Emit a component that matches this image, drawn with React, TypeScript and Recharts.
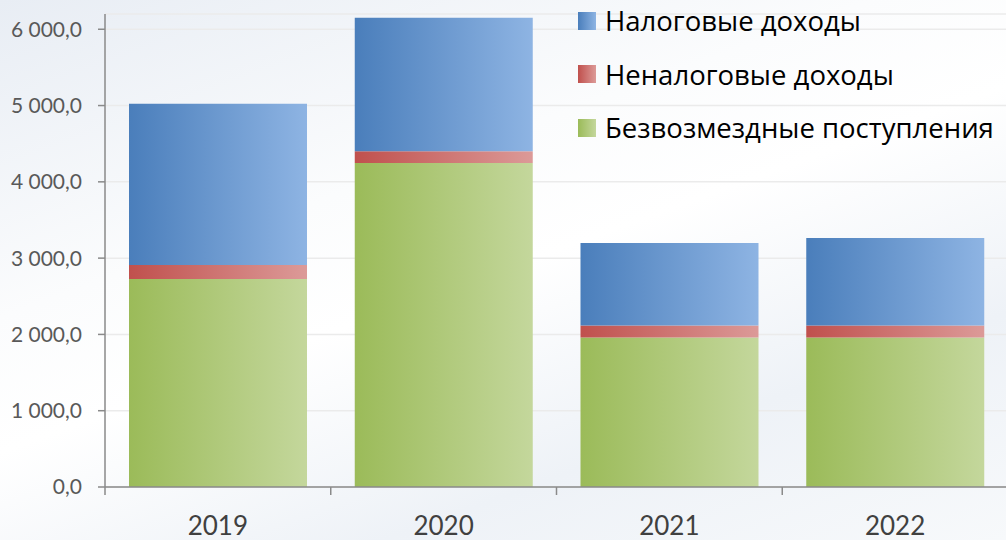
import React from 'react'
import { Bar, BarChart, CartesianGrid, XAxis, YAxis } from 'recharts'

const years = ['2019', '2020', '2021', '2022']
const taxIncome = [2113, 1750, 1081, 1146]
const nonTaxIncome = [183, 153, 158, 159]
const grants = [2726, 4248, 1959, 1959]
const yTicks = [0, 1000, 2000, 3000, 4000, 5000, 6000]

const seriesInfo = [
  { key: 'tax', name: 'Налоговые доходы', from: '#4a7ebb', to: '#8eb4e3' },
  { key: 'nonTax', name: 'Неналоговые доходы', from: '#c0504d', to: '#dc9a98' },
  { key: 'grants', name: 'Безвозмездные поступления', from: '#9bbb59', to: '#c4d79c' }
]

const data = years.map((year, i) => ({
  year,
  tax: taxIncome[i],
  nonTax: nonTaxIncome[i],
  grants: grants[i]
}))

const CHART_W = 1008
const CHART_H = 540
const Y_AXIS_W = 105
const BAND = (CHART_W - Y_AXIS_W) / years.length
const AXIS_GRAY = '#8a8a8a'

const formatTick = (v: number) => (v === 0 ? '0,0' : `${v / 1000} 000,0`)

const YearTick = (props: any) => {
  const { x, y, payload } = props
  return (
    <g>
      <line
        x1={x - BAND / 2}
        x2={x - BAND / 2}
        y1={y}
        y2={y + 8}
        stroke={AXIS_GRAY}
        strokeWidth={1.5}
      />
      <text
        x={x}
        y={y + 48}
        textAnchor='middle'
        fill='#404040'
        fontSize={26}
        fontFamily='Lato, sans-serif'>
        {payload.value}
      </text>
    </g>
  )
}

// legend is drawn as an overlay so it doesn't steal room from the plot
const LegendBox = () => (
  <div
    style={{
      position: 'absolute',
      left: 578,
      top: -6,
      fontFamily: '"Open Sans", sans-serif',
      fontSize: 27.5,
      color: '#000',
      whiteSpace: 'nowrap'
    }}>
    {seriesInfo.map((s) => (
      <div
        key={s.key}
        style={{ display: 'flex', alignItems: 'center', height: 53.5 }}>
        <div
          style={{
            width: 18,
            height: 18,
            marginRight: 9,
            background: `linear-gradient(to right, ${s.from}, ${s.to})`
          }}
        />
        <span>{s.name}</span>
      </div>
    ))}
  </div>
)

const App = () => {
  return (
    <div
      style={{
        position: 'absolute',
        left: 0,
        top: 0,
        width: 1006,
        height: 540,
        overflow: 'hidden',
        background:
          'linear-gradient(160deg, #e8edf4 0%, #fbfcfd 35%, #ffffff 50%, #eef2f7 75%, #f7f9fb 100%)'
      }}>
      <BarChart
        width={CHART_W}
        height={CHART_H}
        data={data}
        margin={{ top: 14, right: 0, bottom: 0, left: 0 }}>
        <defs>
          {seriesInfo.map((s) => (
            <linearGradient key={s.key} id={`grad-${s.key}`} x1='0' y1='0' x2='1' y2='0'>
              <stop offset='0%' stopColor={s.from} />
              <stop offset='100%' stopColor={s.to} />
            </linearGradient>
          ))}
        </defs>
        <CartesianGrid vertical={false} stroke='#ebebeb' strokeWidth={1.5} />
        <XAxis
          dataKey='year'
          height={53}
          stroke={AXIS_GRAY}
          strokeWidth={1.5}
          tickLine={false}
          tickSize={0}
          tickMargin={0}
          tick={<YearTick />}
          interval={0}
        />
        <YAxis
          width={Y_AXIS_W}
          domain={[0, 6200]}
          ticks={yTicks}
          tickFormatter={formatTick}
          stroke={AXIS_GRAY}
          strokeWidth={1.5}
          tickSize={7}
          tickMargin={16}
          tick={{ fill: '#595959', fontSize: 21, fontFamily: 'Lato, sans-serif' }}
        />
        <Bar dataKey='grants' name={seriesInfo[2].name} stackId='a' barSize={178} fill='url(#grad-grants)' isAnimationActive={false} />
        <Bar dataKey='nonTax' name={seriesInfo[1].name} stackId='a' barSize={178} fill='url(#grad-nonTax)' isAnimationActive={false} />
        <Bar dataKey='tax' name={seriesInfo[0].name} stackId='a' barSize={178} fill='url(#grad-tax)' isAnimationActive={false} />
      </BarChart>
      <LegendBox />
    </div>
  )
}

export default App
